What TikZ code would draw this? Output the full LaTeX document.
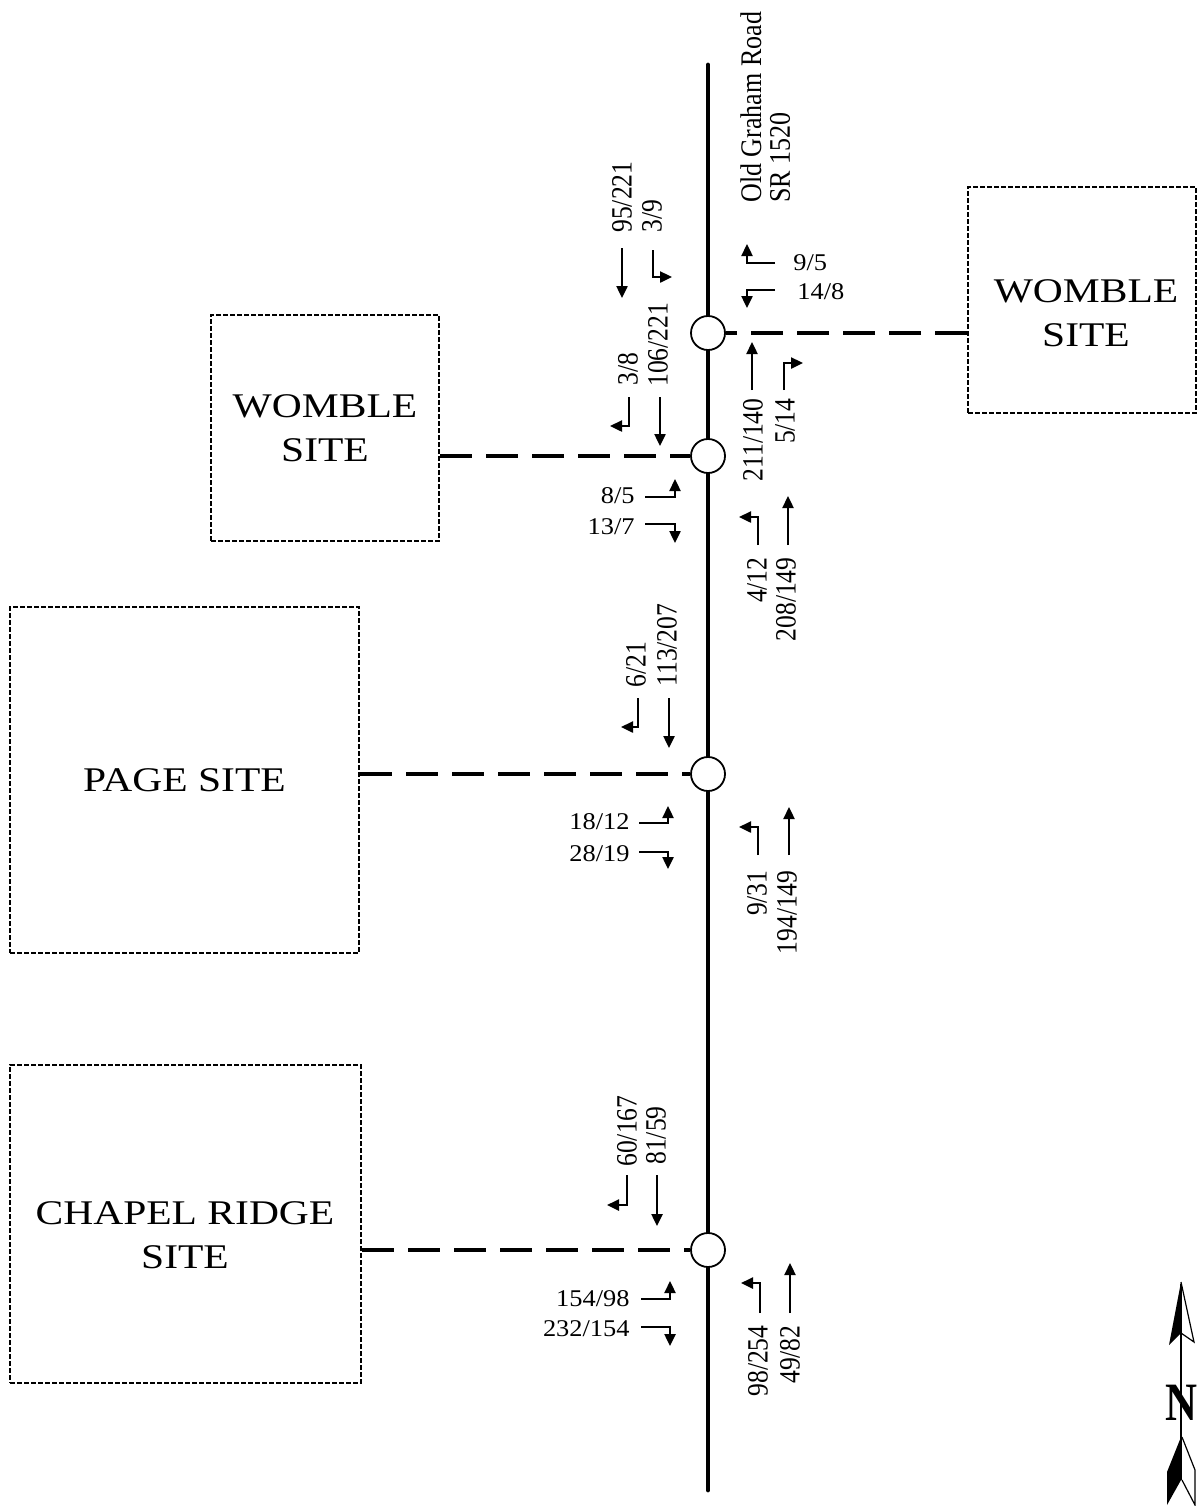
\documentclass[tikz,border=0pt]{standalone}
\usepackage{fontspec}
\setmainfont{Liberation Serif}
\usepackage{tikz}
\usetikzlibrary{positioning, arrows.meta}

\tikzset{
  road/.style={line width=2.4pt, line cap=round},
  junction/.style={circle, draw, fill=white, line width=0.9pt, minimum size=17pt, inner sep=0pt},
  site/.style={draw, line width=1pt, dash pattern=on 2.5pt off 1pt, inner sep=0pt},
  sitetext/.style={font=\fontsize{17.3}{22}\selectfont, align=center, xscale=1.2, inner sep=0pt},
  access/.style={line width=2.4pt, dash pattern=on 16pt off 7pt},
  vol/.style={font=\fontsize{12}{12}\selectfont, inner sep=0pt, xscale=1.1},
  volup/.style={font=\fontsize{12.8}{12.8}\selectfont, inner sep=0pt, rotate=90, yscale=1.15},
  movearrow/.style={line width=1.2pt, -{Triangle[length=6pt, width=5.5pt]}},
}

\begin{document}
\begin{tikzpicture}[x=0.5pt, y=-0.5pt]
  \useasboundingbox (0,0) rectangle (1198,1506);

  % road and junctions
  \coordinate (roadN) at (708,65);
  \coordinate (roadS) at (708,1490);
  \draw[road] (roadN) -- (roadS);
  \node[junction] (i1) at (708,333) {};
  \node[junction] (i2) at (708,456) {};
  \node[junction] (i3) at (708,774) {};
  \node[junction] (i4) at (708,1250) {};
  \node[volup, font=\fontsize{13}{12.5}\selectfont, align=left, anchor=north west] (roadname)
    at (740,203) {Old Graham Road\\SR 1520};

  % sites
  \node[site, minimum width=114pt, minimum height=113pt] (wombleE) at (1082,300) {};
  \node[sitetext] (wombleEtxt) at (1086,313) {WOMBLE\\SITE};
  \node[site, minimum width=114pt, minimum height=113pt] (wombleW) at (325,428) {};
  \node[sitetext] (wombleWtxt) at (wombleW) {WOMBLE\\SITE};
  \node[site, minimum width=174.5pt, minimum height=173pt] (page) at (184.5,780) {};
  \node[sitetext] (pagetxt) at (page) {PAGE SITE};
  \node[site, minimum width=175.5pt, minimum height=159pt] (chapel) at (185.5,1224) {};
  \node[sitetext] (chapeltxt) at (185,1235) {CHAPEL RIDGE\\SITE};

  \draw[access] (wombleE.west |- i1) -- (i1);
  \draw[access] (wombleW.east |- i2) -- (i2);
  \draw[access] (page.east |- i3) -- (i3);
  \draw[access] (chapel.east |- i4) -- (i4);

  % junction 1
  \node[volup, anchor=west] (sb1t) at (622,233) {95/221};
  \draw[movearrow] (622,248) -- (622,298);
  \node[volup, anchor=west] (sb1l) at (652,233) {3/9};
  \draw[movearrow] (653,250) |- (672,277);
  \draw[movearrow] (775,263) -| (747,244);
  \node[vol, anchor=west] (wb1r) at (793,263) {9/5};
  \draw[movearrow] (775,290) -| (747,308);
  \node[vol, anchor=west] (wb1l) at (797,292) {14/8};
  \node[volup, anchor=east] (nb1t) at (753,398) {211/140};
  \draw[movearrow] (752,390) -- (752,342);
  \node[volup, anchor=east] (nb1r) at (785,398) {5/14};
  \draw[movearrow] (784,390) |- (803,363);

  % junction 2
  \node[volup, anchor=west] (sb2r) at (628,386) {3/8};
  \draw[movearrow] (629,397) |- (610,426);
  \node[volup, anchor=west] (sb2t) at (658,387) {106/221};
  \draw[movearrow] (660,397) -- (660,446);
  \node[vol, anchor=east] (eb2l) at (635,496) {8/5};
  \draw[movearrow] (645,497) -| (675,479);
  \node[vol, anchor=east] (eb2r) at (635,527) {13/7};
  \draw[movearrow] (645,524) -| (675,543);
  \draw[movearrow] (758,545) |- (739,517);
  \node[volup, anchor=east] (nb2l) at (757,557) {4/12};
  \draw[movearrow] (788,545) -- (788,496);
  \node[volup, anchor=east] (nb2t) at (786,557) {208/149};

  % junction 3
  \node[volup, anchor=west] (sb3r) at (636,688) {6/21};
  \draw[movearrow] (638,698) |- (621,727);
  \node[volup, anchor=west] (sb3t) at (667,687) {113/207};
  \draw[movearrow] (669,698) -- (669,748);
  \node[vol, anchor=east] (eb3l) at (630,822) {18/12};
  \draw[movearrow] (639,823) -| (668,806);
  \node[vol, anchor=east] (eb3r) at (630,854) {28/19};
  \draw[movearrow] (639,852) -| (668,869);
  \draw[movearrow] (758,855) |- (739,827);
  \node[volup, anchor=east] (nb3l) at (757,870) {9/31};
  \draw[movearrow] (789,855) -- (789,807);
  \node[volup, anchor=east] (nb3t) at (787,870) {194/149};

  % junction 4
  \node[volup, anchor=west] (sb4r) at (627,1167) {60/167};
  \draw[movearrow] (627,1175) |- (607,1205);
  \node[volup, anchor=west] (sb4t) at (656,1165) {81/59};
  \draw[movearrow] (657,1175) -- (657,1226);
  \node[vol, anchor=east] (eb4l) at (630,1299) {154/98};
  \draw[movearrow] (641,1299) -| (670,1281);
  \node[vol, anchor=east] (eb4r) at (630,1329) {232/154};
  \draw[movearrow] (641,1327) -| (670,1346);
  \draw[movearrow] (760,1313) |- (741,1283);
  \node[volup, anchor=east] (nb4l) at (758,1325) {98/254};
  \draw[movearrow] (790,1313) -- (790,1263);
  \node[volup, anchor=east] (nb4t) at (790,1325) {49/82};

  % north arrow
  \draw[line width=0.6pt] (1181,1284) -- (1181,1480);
  \fill (1181,1282) -- (1169,1345) -- (1181,1333) -- cycle;
  \draw[line width=0.6pt] (1181,1282) -- (1194,1342) -- (1181,1333);
  \node[font=\fontsize{27}{27}\selectfont\bfseries, inner sep=0pt, xscale=0.82] (north) at (1181,1403) {N};
  \fill (1181,1437) -- (1167,1472) -- (1167,1505) -- (1181,1480) -- cycle;
  \draw[line width=0.6pt] (1182,1437) -- (1195,1470) -- (1195,1505) -- (1182,1480);
\end{tikzpicture}
\end{document}
